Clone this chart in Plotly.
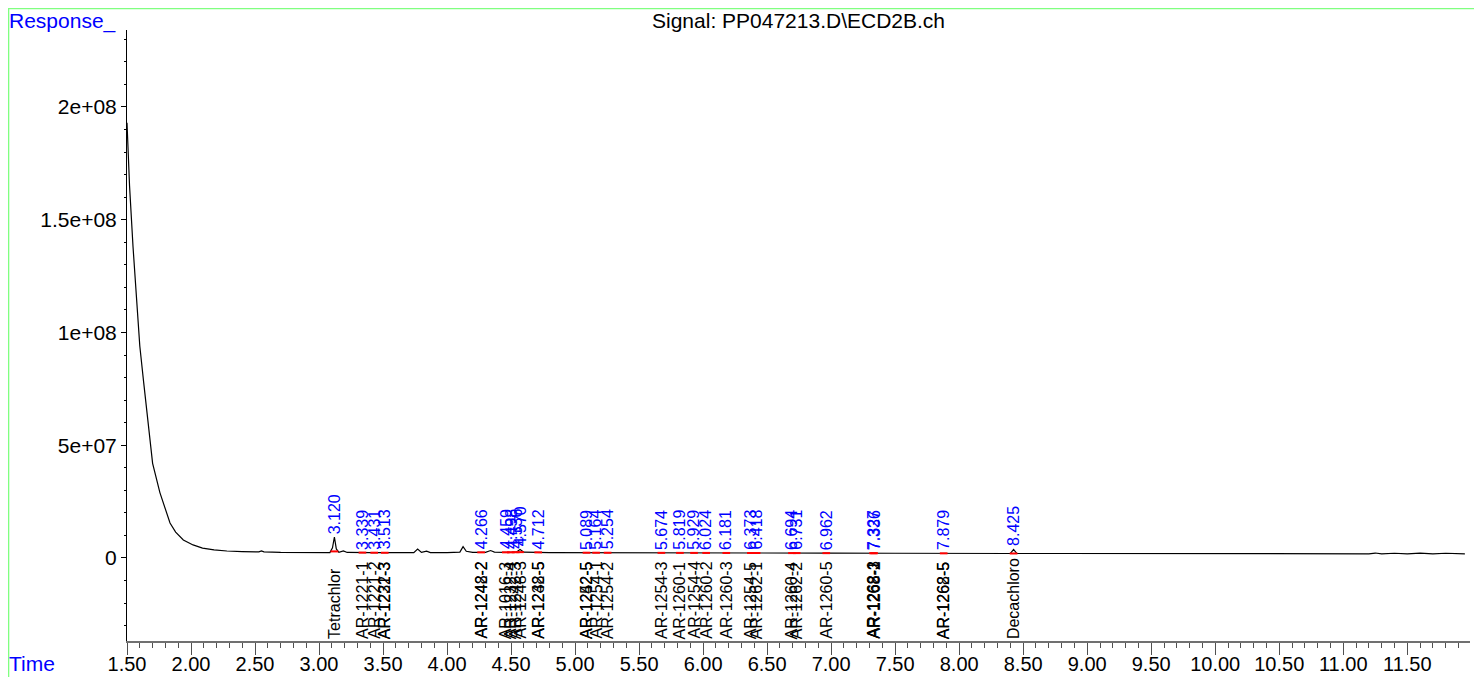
import numpy as np
import plotly.graph_objects as go

# Chromatogram trace (time in min, response)
times = [1.500, 1.520, 1.547, 1.575, 1.600, 1.630, 1.656, 1.700, 1.757, 1.800, 1.836, 1.880,
         1.940, 2.016, 2.090, 2.180, 2.280, 2.400, 2.530, 2.550, 2.570, 2.700, 2.850, 3.000,
         3.085, 3.105, 3.120, 3.135, 3.155, 3.190, 3.220, 3.400, 3.600, 3.740, 3.770, 3.800,
         3.840, 3.870, 4.000, 4.100, 4.125, 4.150, 4.200, 4.300, 4.340, 4.370, 4.450, 4.540,
         4.570, 4.600, 4.800, 5.000, 5.500, 6.000, 6.500, 7.000, 7.500, 8.000, 8.400, 8.425,
         8.450, 8.800, 9.300, 9.500, 10.000, 10.500, 11.000, 11.200, 11.250, 11.300, 11.400,
         11.500, 11.600, 11.700, 11.800, 11.950]
response = [193e6, 165e6, 138e6, 114e6, 94e6, 78e6, 64e6, 42e6, 29e6, 21.5e6, 15.5e6, 11.5e6,
            8.0e6, 5.8e6, 4.4e6, 3.6e6, 3.1e6, 2.85e6, 2.7e6, 3.1e6, 2.7e6, 2.5e6, 2.4e6, 2.35e6,
            2.4e6, 4.5e6, 9.3e6, 4.0e6, 2.5e6, 3.1e6, 2.45e6, 2.35e6, 2.3e6, 2.4e6, 4.0e6, 2.5e6,
            3.0e6, 2.4e6, 2.35e6, 2.6e6, 5.0e6, 3.0e6, 2.5e6, 2.5e6, 3.3e6, 2.6e6, 2.5e6, 2.6e6,
            3.8e6, 2.6e6, 2.4e6, 2.35e6, 2.3e6, 2.25e6, 2.2e6, 2.15e6, 2.1e6, 2.05e6, 2.0e6, 3.8e6,
            2.0e6, 2.0e6, 1.95e6, 1.9e6, 1.9e6, 1.85e6, 1.85e6, 1.85e6, 2.2e6, 1.8e6, 2.1e6,
            1.85e6, 2.2e6, 1.8e6, 2.1e6, 1.85e6]

# Retention time labels (blue)
peak_rt = [3.120, 3.339, 3.431, 3.513, 4.266, 4.459, 4.498, 4.536, 4.570, 4.712, 5.089, 5.164,
           5.254, 5.674, 5.819, 5.929, 6.024, 6.181, 6.373, 6.418, 6.694, 6.731, 6.962, 7.327,
           7.336, 7.879, 8.425]

# Compound names (black), one per identified compound
compound_rt = [3.120, 3.339, 3.431, 3.513, 3.513, 4.266, 4.266, 4.459, 4.498, 4.536, 4.570,
               4.712, 4.712, 5.089, 5.089, 5.164, 5.254, 5.674, 5.819, 5.929, 6.024, 6.181,
               6.373, 6.418, 6.694, 6.731, 6.962, 7.327, 7.327, 7.336, 7.879, 7.879, 8.425]
compound_name = ["Tetrachlor", "AR-1221-1", "AR-1221-2", "AR-1221-3", "AR-1232-3",
                 "AR-1242-2", "AR-1248-2", "AR-1016-3", "AR-1232-4", "AR-1242-3", "AR-1248-3",
                 "AR-1232-5", "AR-1248-5", "AR-1252-5", "AR-1242-5", "AR-1254-1", "AR-1254-2",
                 "AR-1254-3", "AR-1260-1", "AR-1254-4", "AR-1260-2", "AR-1260-3", "AR-1254-5",
                 "AR-1262-1", "AR-1260-4", "AR-1262-2", "AR-1260-5", "AR-1262-3", "AR-1268-1",
                 "AR-1268-2", "AR-1262-5", "AR-1268-5", "Decachloro"]

y_tickvals = [0, 5e7, 1e8, 1.5e8, 2e8]
y_ticktext = ["0", "5e+07", "1e+08", "1.5e+08", "2e+08"]

FONT = "Liberation Sans, Arial, sans-serif"

fig = go.Figure()
fig.add_trace(go.Scatter(x=times, y=response, mode="lines",
                         line=dict(color="black", width=1.2), hoverinfo="skip"))

# red integration markers on the baseline
mx, my = [], []
for rt in peak_rt:
    b = float(np.interp(rt, times, response))
    b = min(b, float(np.interp(rt - 0.03, times, response)))
    mx += [rt - 0.03, rt + 0.03, None]
    my += [b, b, None]
fig.add_trace(go.Scatter(x=mx, y=my, mode="lines", line=dict(color="red", width=2),
                         hoverinfo="skip"))

ann = []
for rt in peak_rt:
    apex = float(np.interp(rt, times, response))
    ann.append(dict(x=rt, y=apex + 0.5e6, xref="x", yref="y", text=f"{rt:.3f}",
                    showarrow=False, textangle=-90, xanchor="center", yanchor="bottom",
                    font=dict(family=FONT, size=16, color="#0000FF")))
for rt, nm in zip(compound_rt, compound_name):
    ann.append(dict(x=rt, y=0, xref="x", yref="paper", text=nm, showarrow=False,
                    textangle=-90, xanchor="center", yanchor="bottom", yshift=0,
                    font=dict(family=FONT, size=16, color="black")))

ann.append(dict(x=-0.0886, y=1.036, xref="paper", yref="paper", text="Response_",
                showarrow=False, xanchor="left", yanchor="top", borderpad=0,
                font=dict(family=FONT, size=21, color="#0000FF")))
ann.append(dict(x=-0.0886, y=-0.0376, xref="paper", yref="paper", text="Time",
                showarrow=False, xanchor="left", yanchor="middle", borderpad=0,
                font=dict(family=FONT, size=21, color="#0000FF")))
ann.append(dict(x=0.5, y=1.036, xref="paper", yref="paper",
                text="Signal: PP047213.D\\ECD2B.ch", showarrow=False,
                xanchor="center", yanchor="top", borderpad=0,
                font=dict(family=FONT, size=21, color="black")))

fig.update_layout(
    width=1482, height=677,
    margin=dict(l=119, r=20, t=22, b=44, autoexpand=False),
    paper_bgcolor="white", plot_bgcolor="white",
    showlegend=False,
    annotations=ann,
    font=dict(family=FONT, size=20, color="black"),
    xaxis=dict(range=[1.5, 11.99], dtick=0.5, tick0=1.5, tickformat=".2f", automargin=False,
               showgrid=False, zeroline=False, showline=True, linecolor="#707070",
               linewidth=2, ticks="outside", ticklen=12, tickwidth=1, tickcolor="#505050",
               ticklabelstandoff=-8,
               minor=dict(dtick=0.1, ticks="outside", ticklen=5, tickcolor="#505050",
                          showgrid=False),
               tickfont=dict(family=FONT, size=20, color="black")),
    yaxis=dict(range=[-3.681e7, 2.3414e8], tickvals=y_tickvals, ticktext=y_ticktext,
               automargin=False,
               showgrid=False, zeroline=False, showline=True, linecolor="black",
               linewidth=1, ticks="outside", ticklen=5, tickcolor="black",
               minor=dict(dtick=1e7, ticks="outside", ticklen=2, tickcolor="black",
                          showgrid=False),
               tickfont=dict(family=FONT, size=21, color="black")),
    shapes=[dict(type="rect", xref="paper", yref="paper", x0=-0.0882, x1=1.0067,
                 y0=-0.072, y1=1.0352, line=dict(color="#80FF80", width=1.5),
                 fillcolor="rgba(0,0,0,0)", layer="above")],
)

fig.write_html("out.html")
